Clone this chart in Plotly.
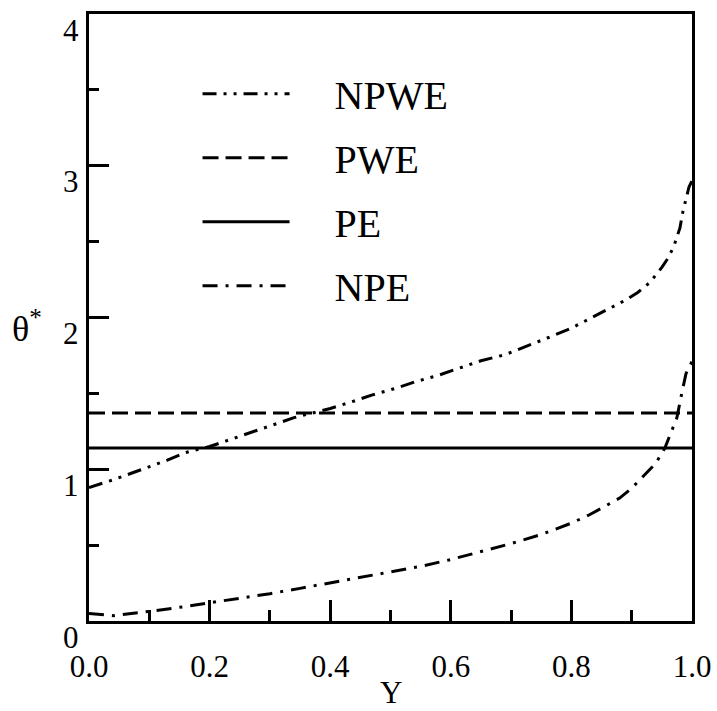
import plotly.graph_objects as go

# ---- data ----
y_npwe = [0.0, 0.04, 0.085, 0.13, 0.16, 0.2, 0.23, 0.27, 0.3, 0.34, 0.37, 0.4, 0.44, 0.47,
          0.51, 0.54, 0.58, 0.61, 0.65, 0.69, 0.73, 0.76, 0.8, 0.84, 0.87, 0.89, 0.91,
          0.93, 0.95, 0.96, 0.97, 0.98, 0.985, 0.995, 1.0]
t_npwe = [0.88, 0.93, 0.995, 1.06, 1.11, 1.15, 1.19, 1.245, 1.29, 1.34, 1.37, 1.40, 1.45, 1.49,
          1.535, 1.575, 1.62, 1.66, 1.715, 1.755, 1.815, 1.865, 1.93, 2.01, 2.07, 2.115, 2.165,
          2.23, 2.33, 2.39, 2.47, 2.59, 2.70, 2.86, 2.90]

y_pwe = [0.0, 1.0]
t_pwe = [1.37, 1.37]

y_pe = [0.0, 1.0]
t_pe = [1.14, 1.14]

y_npe = [0.0, 0.04, 0.07, 0.1, 0.15, 0.2, 0.25, 0.3, 0.35, 0.4, 0.45, 0.5, 0.55, 0.6, 0.65,
         0.7, 0.75, 0.8, 0.83, 0.85, 0.88, 0.9, 0.92, 0.94, 0.955, 0.965, 0.975, 0.983, 0.99, 1.0]
t_npe = [0.05, 0.035, 0.05, 0.063, 0.09, 0.12, 0.15, 0.18, 0.215, 0.25, 0.285, 0.32, 0.36, 0.405,
         0.455, 0.51, 0.57, 0.645, 0.70, 0.745, 0.81, 0.875, 0.955, 1.04, 1.14, 1.24, 1.34, 1.50,
         1.63, 1.71]

x_tickvals = [0.0, 0.2, 0.4, 0.6, 0.8, 1.0]
x_ticktext = ["0.0", "0.2", "0.4", "0.6", "0.8", "1.0"]
y_tickvals = [0, 1, 2, 3, 4]
y_ticktext = ["0", "1", "2", "3", "4"]

series = [
    ("NPWE", y_npwe, t_npwe, "14px,7px,3px,7px,3px,7px"),
    ("PWE", y_pwe, t_pwe, "16px,7px"),
    ("PE", y_pe, t_pe, "solid"),
    ("NPE", y_npe, t_npe, "15px,8px,3px,8px"),
]

FONT = "Liberation Serif"

fig = go.Figure()
for name, xs, ys, dash in series:
    fig.add_trace(go.Scatter(
        x=xs, y=ys, mode="lines", name="\u00a0\u00a0\u00a0\u00a0" + name,
        legendgroup=name,
        line=dict(color="black", width=3, dash=dash),
    ))

# y tick labels sit a little below their ticks in the reference
annotations = [
    dict(text=txt, xref="paper", yref="y", x=0, y=val,
         xanchor="right", yanchor="middle", xshift=-8, yshift=-16,
         showarrow=False, font=dict(family=FONT, size=31, color="black"))
    for val, txt in zip(y_tickvals, y_ticktext)
]
# axis titles
annotations.append(dict(
    text="θ<sup>*</sup>", xref="paper", yref="paper",
    x=-0.103, y=0.485, xanchor="center", yanchor="middle",
    showarrow=False, font=dict(family=FONT, size=36, color="black"),
))
annotations.append(dict(
    text="Y", xref="paper", yref="paper",
    x=0.5, y=0, xanchor="center", yanchor="middle", yshift=-71,
    showarrow=False, font=dict(family=FONT, size=31, color="black"),
))

fig.update_layout(
    width=717, height=711,
    margin=dict(l=89, r=25, t=14, b=90),
    paper_bgcolor="white", plot_bgcolor="white",
    font=dict(family=FONT, color="black", size=30),
    showlegend=True,
    legend=dict(
        x=0.18, y=0.922, xanchor="left", yanchor="top",
        bgcolor="rgba(0,0,0,0)", borderwidth=0,
        font=dict(family=FONT, size=40, color="black"),
        itemwidth=87, tracegroupgap=9,
    ),
    xaxis=dict(
        range=[0, 1], showgrid=False, zeroline=False, automargin=False,
        showline=True, linecolor="black", linewidth=3, mirror=True,
        ticks="inside", ticklen=21, tickwidth=3, tickcolor="black",
        tickvals=x_tickvals, ticktext=x_ticktext,
        tickfont=dict(family=FONT, size=31), ticklabelstandoff=16,
        minor=dict(dtick=0.1, ticks="inside", ticklen=11, tickwidth=3, tickcolor="black"),
    ),
    yaxis=dict(
        range=[0, 4], showgrid=False, zeroline=False, automargin=False,
        showline=True, linecolor="black", linewidth=3, mirror=True,
        ticks="inside", ticklen=20, tickwidth=3, tickcolor="black",
        tickvals=y_tickvals, showticklabels=False,
        minor=dict(dtick=0.5, ticks="inside", ticklen=10, tickwidth=3, tickcolor="black"),
    ),
    annotations=annotations,
)

# remove the default 8px page margin so the figure fills the window exactly
fig.write_html(
    "out.html",
    config={"displayModeBar": False},
    post_script="document.body.style.margin='0';document.body.style.overflow='hidden';",
)
